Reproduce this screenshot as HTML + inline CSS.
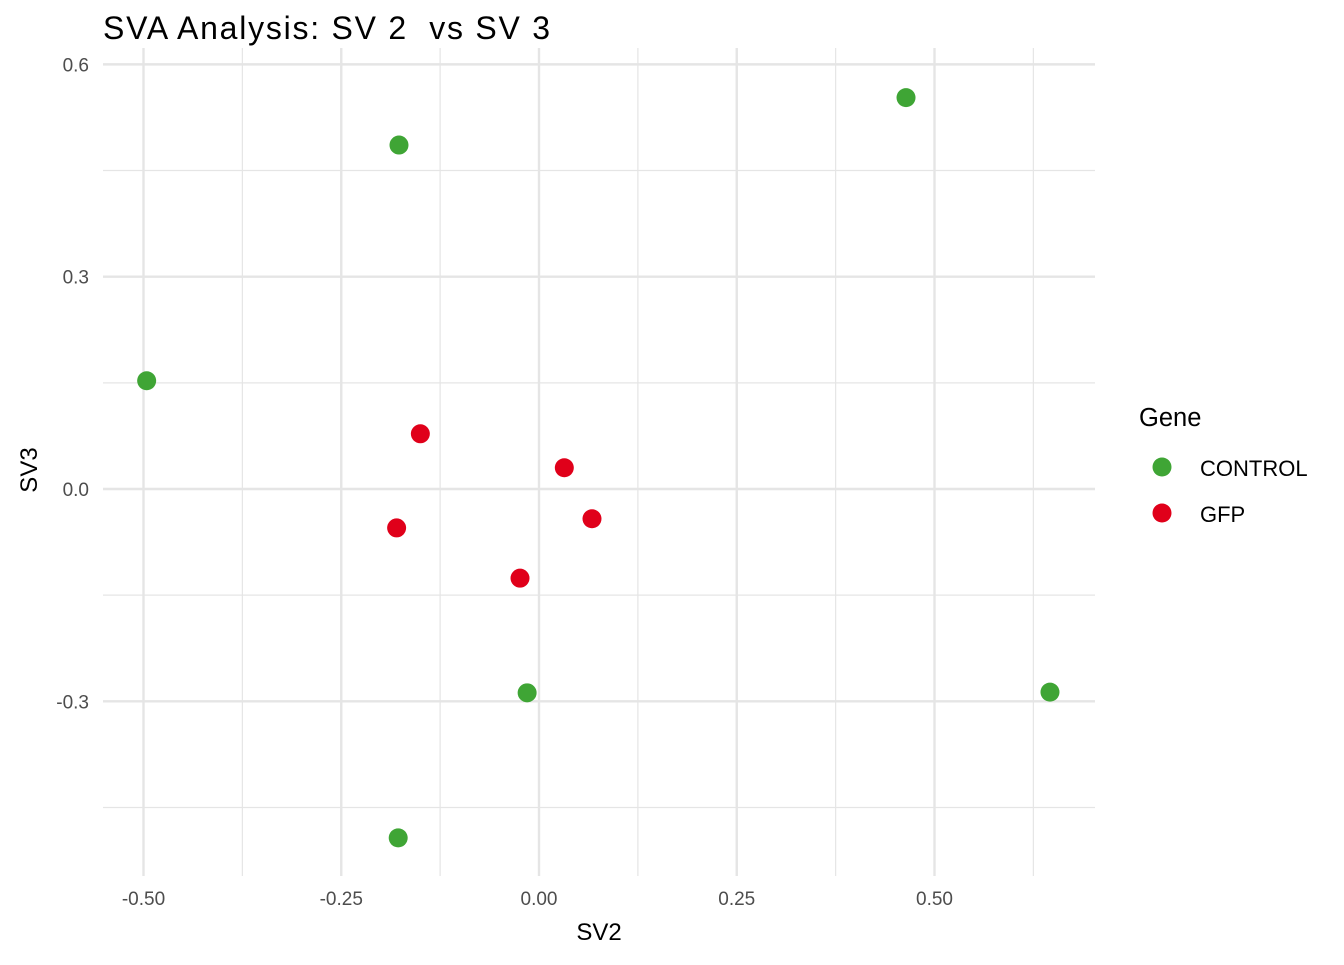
<!DOCTYPE html>
<html><head><meta charset="utf-8"><style>
body{margin:0;background:#fff;}
svg text{font-family:"Liberation Sans",Arial,sans-serif;}
</style></head><body>
<svg id="chart" width="1344" height="960">
<rect width="1344" height="960" fill="#fff"/>
<text x="103" y="39" font-size="32" textLength="447" lengthAdjust="spacing" fill="#000">SVA Analysis: SV 2 &#160;vs SV 3</text>
<g id="grid"></g>
<g id="points"></g>
<text x="599" y="940" font-size="24" text-anchor="middle">SV2</text>
<text transform="translate(37,470) rotate(-90)" font-size="24" text-anchor="middle">SV3</text>
<g>
<text x="1139" y="426" font-size="25.5">Gene</text>
<g><circle cx="1162" cy="467" r="9.5" fill="#3FA535"/><text x="1200" y="476" font-size="22">CONTROL</text></g>
<g><circle cx="1162" cy="513" r="9.5" fill="#E0001A"/><text x="1200" y="522" font-size="22">GFP</text></g>
</g>
</svg>
<script>
const xTicks=[-0.5,-0.25,0,0.25,0.5];
const xTickLabels=["-0.50","-0.25","0.00","0.25","0.50"];
const xMinor=[-0.375,-0.125,0.125,0.375,0.625];
const yTicks=[0.6,0.3,0,-0.3];
const yTickLabels=["0.6","0.3","0.0","-0.3"];
const yMinor=[0.45,0.15,-0.15,-0.45];
const sv2=[-0.496,-0.177,0.464,-0.015,0.646,-0.178,-0.150,0.032,-0.180,0.067,-0.024];
const sv3=[0.153,0.486,0.553,-0.288,-0.287,-0.493,0.078,0.030,-0.055,-0.042,-0.126];
const gene=["CONTROL","CONTROL","CONTROL","CONTROL","CONTROL","CONTROL","GFP","GFP","GFP","GFP","GFP"];
const colors={CONTROL:"#3FA535",GFP:"#E0001A"};
const NS="http://www.w3.org/2000/svg";
const X=v=>539+v*791, Y=v=>489-v*707.7;
const L=103,R=1095,T=48,B=876;
const grid=document.getElementById('grid'), pts=document.getElementById('points');
function line(x1,y1,x2,y2,w,name){const l=document.createElementNS(NS,'line');
l.setAttribute('x1',x1);l.setAttribute('y1',y1);l.setAttribute('x2',x2);l.setAttribute('y2',y2);
l.setAttribute('stroke','#E5E5E5');l.setAttribute('stroke-width',w);


grid.appendChild(l);}
function txt(x,y,s,anchor,name){const t=document.createElementNS(NS,'text');
t.setAttribute('x',x);t.setAttribute('y',y);t.setAttribute('font-size','19');t.setAttribute('fill','#4D4D4D');t.setAttribute('text-anchor',anchor);t.textContent=s;


grid.appendChild(t);}
xMinor.forEach(v=>line(X(v),T,X(v),B,1.2,'x-minor-gridline'));
yMinor.forEach(v=>line(L,Y(v),R,Y(v),1.2,'y-minor-gridline'));
xTicks.forEach((v,i)=>{line(X(v),T,X(v),B,2.4,'x-major-gridline');txt(X(v),905,xTickLabels[i],'middle','x-tick-label');});
yTicks.forEach((v,i)=>{line(L,Y(v),R,Y(v),2.4,'y-major-gridline');txt(89,Y(v)+7,yTickLabels[i],'end','y-tick-label');});
sv2.forEach((v,i)=>{const c=document.createElementNS(NS,'circle');
c.setAttribute('cx',X(v));c.setAttribute('cy',Y(sv3[i]));c.setAttribute('r',9.5);c.setAttribute('fill',colors[gene[i]]);


pts.appendChild(c);});
</script>
</body></html>
